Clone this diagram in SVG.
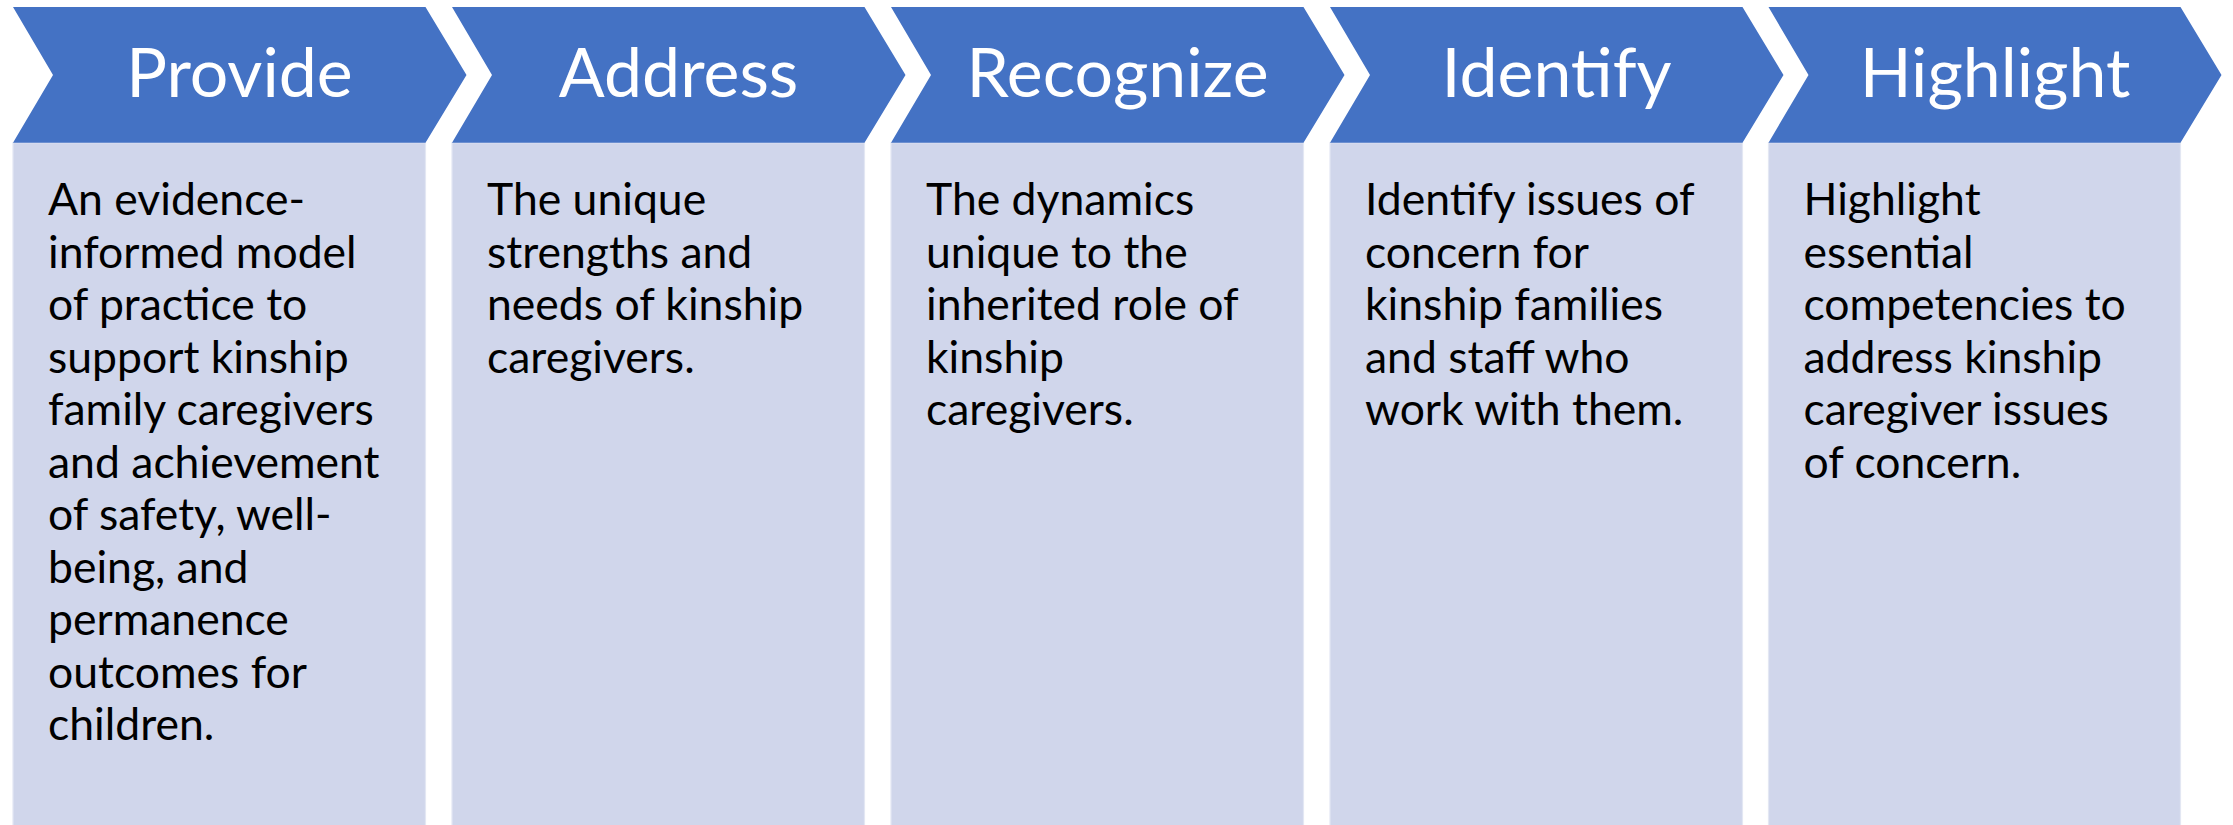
<svg xmlns="http://www.w3.org/2000/svg" width="2233" height="825" viewBox="0 0 2233 825">
<style>
.chev{fill:#4472C4;}
.box{fill:#D0D6EB;stroke:#E3E7F3;stroke-width:1.2;}
.hd{font-family:Lato,"Open Sans","Liberation Sans",sans-serif;font-size:68px;fill:#FFFFFF;text-anchor:middle;}
.bd{font-family:Lato,"Open Sans","Liberation Sans",sans-serif;font-size:44.5px;fill:#000000;}
</style>
<rect width="2233" height="825" fill="#FFFFFF"/>
<g id="connectors"></g>
<g id="step1">
<rect class="box" x="13" y="142.7" width="412.5" height="700"/>
<path class="chev" d="M13,7 H425.5 L466.5,75 L425.5,142.7 H13 L53,75 Z"/>
<text class="hd" x="239.5" y="97">Provide</text>
<text class="bd" x="48" y="215">
<tspan x="48" y="215">An evidence-</tspan>
<tspan x="48" y="267.5">informed model</tspan>
<tspan x="48" y="320">of practice to</tspan>
<tspan x="48" y="372.5">support kinship</tspan>
<tspan x="48" y="425">family caregivers</tspan>
<tspan x="48" y="477.5">and achievement</tspan>
<tspan x="48" y="530">of safety, well-</tspan>
<tspan x="48" y="582.5">being, and</tspan>
<tspan x="48" y="635">permanence</tspan>
<tspan x="48" y="687.5">outcomes for</tspan>
<tspan x="48" y="740">children.</tspan>
</text>
</g>
<g id="step2">
<rect class="box" x="452" y="142.7" width="412.5" height="700"/>
<path class="chev" d="M452,7 H864.5 L905.5,75 L864.5,142.7 H452 L492,75 Z"/>
<text class="hd" x="678.5" y="97">Address</text>
<text class="bd" x="487" y="215">
<tspan x="487" y="215">The unique</tspan>
<tspan x="487" y="267.5">strengths and</tspan>
<tspan x="487" y="320">needs of kinship</tspan>
<tspan x="487" y="372.5">caregivers.</tspan>
</text>
</g>
<g id="step3">
<rect class="box" x="891" y="142.7" width="412.5" height="700"/>
<path class="chev" d="M891,7 H1303.5 L1344.5,75 L1303.5,142.7 H891 L931,75 Z"/>
<text class="hd" x="1117.5" y="97">Recognize</text>
<text class="bd" x="926" y="215">
<tspan x="926" y="215">The dynamics</tspan>
<tspan x="926" y="267.5">unique to the</tspan>
<tspan x="926" y="320">inherited role of</tspan>
<tspan x="926" y="372.5">kinship</tspan>
<tspan x="926" y="425">caregivers.</tspan>
</text>
</g>
<g id="step4">
<rect class="box" x="1330" y="142.7" width="412.5" height="700"/>
<path class="chev" d="M1330,7 H1742.5 L1783.5,75 L1742.5,142.7 H1330 L1370,75 Z"/>
<text class="hd" x="1556.5" y="97">Identify</text>
<text class="bd" x="1365" y="215">
<tspan x="1365" y="215">Identify issues of</tspan>
<tspan x="1365" y="267.5">concern for</tspan>
<tspan x="1365" y="320">kinship families</tspan>
<tspan x="1365" y="372.5">and staff who</tspan>
<tspan x="1365" y="425">work with them.</tspan>
</text>
</g>
<g id="step5">
<rect class="box" x="1768.5" y="142.7" width="412" height="700"/>
<path class="chev" d="M1768.5,7 H2180.5 L2221.5,75 L2180.5,142.7 H1768.5 L1808.5,75 Z"/>
<text class="hd" x="1995" y="97">Highlight</text>
<text class="bd" x="1803.5" y="215">
<tspan x="1803.5" y="215">Highlight</tspan>
<tspan x="1803.5" y="267.5">essential</tspan>
<tspan x="1803.5" y="320">competencies to</tspan>
<tspan x="1803.5" y="372.5">address kinship</tspan>
<tspan x="1803.5" y="425">caregiver issues</tspan>
<tspan x="1803.5" y="477.5">of concern.</tspan>
</text>
</g>
</svg>
